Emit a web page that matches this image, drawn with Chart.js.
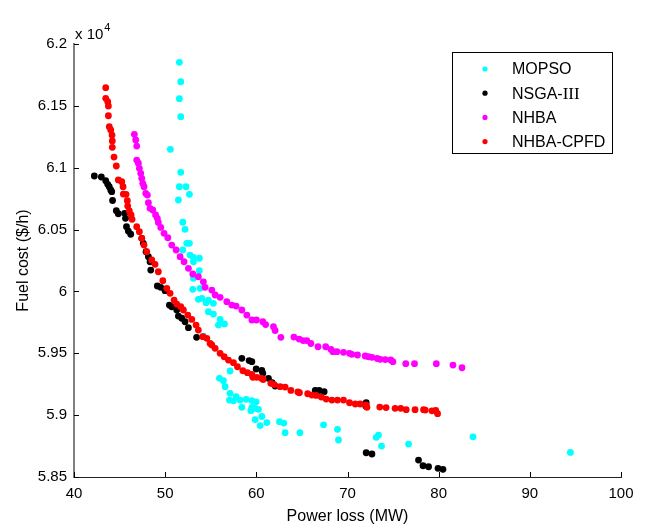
<!DOCTYPE html>
<html>
<head>
<meta charset="utf-8">
<script src="https://cdn.jsdelivr.net/npm/chart.js@4.4.1/dist/chart.umd.min.js"></script>
<style>
  html, body { margin: 0; padding: 0; background: #fff; }
  #wrap { width: 649px; height: 529px; position: relative; }
</style>
</head>
<body>
<div id="wrap"><canvas id="c" width="649" height="529"></canvas></div>
<script>
// ---- Data (Power loss in MW, Fuel cost in $/h) ----
const seriesNames = ['MOPSO', 'NSGA-\u2162', 'NHBA', 'NHBA-CPFD'];
const seriesColors = ['#00FFFF', '#000000', '#FF00FF', '#FF0000'];

const mopsoLoss = [51.56,51.71,51.56,51.71,50.57,51.71,51.56,52.29,52.66,51.45,51.93,52.18,52.37,52.66,51.93,52.73,53.10,53.75,53.10,53.75,53.10,53.83,53.03,53.64,54.02,54.74,54.49,55.29,54.74,55.29,56.03,56.50,55.84,54.19,57.12,55.95,56.39,56.58,57.12,57.05,57.78,58.22,57.49,58.88,59.51,59.98,58.41,59.40,59.51,59.87,60.23,59.87,60.60,60.42,61.15,62.54,63.01,63.16,64.78,67.37,68.90,69.01,73.15,73.40,73.73,76.70,83.77,94.45];
const mopsoCost = [61852,61695,61558,61412,61149,60963,60846,60846,60785,60739,60559,60502,60389,60389,60335,60294,60276,60268,60240,60167,60106,60025,60017,59936,59944,59930,59909,59904,59836,59817,59774,59737,59728,59639,59357,59298,59278,59230,59176,59122,59149,59122,59116,59128,59118,59108,59063,59036,59063,59055,59047,58964,58989,58916,58940,58947,58936,58858,58858,58922,58885,58799,58821,58839,58750,58766,58825,58699];

const nsgaLoss = [42.23,43.00,43.48,43.70,43.87,44.03,44.14,44.23,44.64,44.86,45.55,45.65,45.76,45.96,46.22,47.43,47.61,47.90,48.16,48.34,48.42,49.14,49.52,49.99,50.46,50.72,51.27,51.45,51.82,52.18,52.55,53.45,58.41,59.21,59.51,59.98,60.60,60.71,61.33,61.73,62.06,66.46,66.89,67.44,72.05,72.00,72.05,72.68,77.79,78.28,78.89,79.93,80.47];
const nsgaCost = [60933,60925,60895,60866,60846,60820,60806,60735,60652,60628,60631,60591,60523,60488,60462,60429,60389,60321,60281,60240,60173,60044,60033,60006,59890,59876,59850,59801,59783,59755,59707,59629,59459,59441,59432,59373,59361,59338,59298,59262,59235,59199,59199,59189,59100,59074,58696,58686,58637,58591,58583,58570,58562];

const nhbaLoss = [46.62,46.77,46.88,46.88,47.06,47.17,47.32,47.43,47.54,47.68,47.87,48.05,48.16,48.34,48.64,48.95,49.14,49.25,49.52,49.88,50.29,50.72,51.20,51.64,52.07,52.55,53.03,53.64,54.19,54.38,55.12,55.48,56.03,56.76,57.31,57.78,58.41,58.96,59.51,60.01,60.71,61.02,61.88,62.06,62.69,64.12,64.70,65.14,65.54,65.98,66.76,67.61,68.18,68.40,68.84,69.56,70.22,70.48,71.10,71.94,72.31,72.68,73.26,73.59,74.14,74.74,74.98,76.39,77.35,79.74,81.57,82.56];
const nhbaCost = [61270,61224,61175,61062,61036,60995,60955,60914,60874,60846,60793,60779,60717,60672,60658,60618,60591,60557,60517,60470,60434,60375,60335,60281,60240,60187,60141,60119,60078,60033,60011,59971,59952,59917,59890,59882,59850,59809,59769,59769,59755,59732,59715,59684,59629,59631,59615,59603,59603,59579,59553,59553,59532,59513,59513,59508,59500,59492,59486,59478,59472,59467,59458,59451,59449,59446,59432,59416,59416,59416,59405,59383];

const cpfdLoss = [43.48,43.48,43.70,43.77,43.77,43.87,44.03,44.17,44.20,44.20,44.39,44.64,44.86,45.24,45.38,45.41,45.71,45.85,45.89,46.07,46.26,46.37,46.88,47.17,47.43,47.68,47.98,48.53,48.89,49.25,49.74,50.18,50.54,50.98,51.27,51.71,52.00,52.48,52.92,53.39,53.64,54.13,54.57,54.93,55.12,55.48,56.03,56.47,56.94,57.49,57.93,58.52,59.02,59.51,59.62,60.06,60.60,60.75,61.59,61.95,62.61,63.16,63.79,64.56,64.73,65.63,66.09,66.56,67.13,67.66,68.29,68.90,69.56,70.22,70.85,71.39,72.05,72.13,73.54,74.23,75.22,75.84,76.44,77.41,78.34,78.53,79.26,79.68,79.88];
const cpfdCost = [61647,61561,61534,61499,61420,61331,61305,61264,61216,61165,61086,61014,60901,60887,60846,60787,60785,60733,60690,60650,60618,60583,60523,60483,60429,60375,60321,60254,60219,60159,60087,60025,59985,59930,59898,59876,59850,59809,59774,59728,59688,59634,59621,59580,59567,59540,59500,59472,59445,59424,59391,59359,59343,59330,59306,59306,59297,59288,59257,59247,59230,59227,59200,59187,59181,59173,59162,59159,59146,59130,59122,59122,59122,59100,59090,59090,59082,59063,59065,59061,59055,59055,59044,59044,59044,59041,59035,59038,59012];

const xTickValues = [40, 50, 60, 70, 80, 90, 100];
const yTickValues = [58500, 59000, 59500, 60000, 60500, 61000, 61500, 62000];
const xTitle = 'Power loss (MW)';
const yTitle = 'Fuel cost ($/h)';
const yExponentText = 'x 10';
const yExponent = '4';

// ---- Build ----
const SANS = "'Liberation Sans', Arial, Helvetica, sans-serif";
const pairs = (xs, ys) => xs.map((v, i) => ({ x: v, y: ys[i] }));
const allLoss = [mopsoLoss, nsgaLoss, nhbaLoss, cpfdLoss];
const allCost = [mopsoCost, nsgaCost, nhbaCost, cpfdCost];

const datasets = seriesNames.map((name, i) => ({
  label: name,
  data: pairs(allLoss[i], allCost[i]),
  backgroundColor: seriesColors[i],
  borderColor: seriesColors[i],
  borderWidth: 0,
  pointRadius: 3.4,
  pointHoverRadius: 3.4,
  order: 3 - i
}));

const decorPlugin = {
  id: 'decor',
  afterDraw(chart) {
    const ctx = chart.ctx;
    const xs = chart.scales.x, ys = chart.scales.y;
    const ca = chart.chartArea;
    ctx.save();
    // inward tick marks
    ctx.strokeStyle = '#000';
    ctx.lineWidth = 1;
    ctx.beginPath();
    xs.ticks.forEach(t => {
      const px = Math.round(xs.getPixelForValue(t.value)) + 0.5;
      ctx.moveTo(px, ca.bottom);
      ctx.lineTo(px, ca.bottom - 5);
    });
    ys.ticks.forEach(t => {
      const py = Math.round(ys.getPixelForValue(t.value)) + 0.5;
      ctx.moveTo(ca.left, py);
      ctx.lineTo(ca.left + 5, py);
    });
    ctx.stroke();

    // exponent label
    ctx.fillStyle = '#000';
    ctx.textBaseline = 'alphabetic';
    ctx.textAlign = 'left';
    ctx.font = '15px ' + SANS;
    ctx.fillText(yExponentText, ca.left + 1, ca.top - 5);
    const w = ctx.measureText(yExponentText).width;
    ctx.font = '11px ' + SANS;
    ctx.fillText(yExponent, ca.left + 2 + w, ca.top - 13);

    // legend
    const lx = 452.5, ly = 52.5, lw = 160, lh = 101;
    ctx.fillStyle = '#fff';
    ctx.fillRect(lx, ly, lw, lh);
    ctx.strokeStyle = '#000';
    ctx.lineWidth = 1;
    ctx.strokeRect(lx, ly, lw, lh);
    chart.data.datasets.forEach((ds, i) => {
      const cy = 69 + i * 24.2;
      ctx.fillStyle = ds.backgroundColor;
      ctx.beginPath();
      ctx.arc(485, cy, 2.6, 0, Math.PI * 2);
      ctx.fill();
      ctx.fillStyle = '#000';
      ctx.textBaseline = 'middle';
      ctx.textAlign = 'left';
      const label = ds.label;
      const k = label.indexOf('\u2162');
      if (k >= 0) {
        const pre = label.slice(0, k);
        ctx.font = '16px ' + SANS;
        ctx.fillText(pre, 512, cy + 1);
        const pw = ctx.measureText(pre).width;
        ctx.font = "17px 'Liberation Serif', 'Times New Roman', serif";
        ctx.fillText('III', 512 + pw, cy + 1);
      } else {
        ctx.font = '16px ' + SANS;
        ctx.fillText(label, 512, cy + 1);
      }
    });
    ctx.restore();
  }
};

new Chart(document.getElementById('c'), {
  type: 'scatter',
  data: { datasets },
  options: {
    responsive: false,
    animation: false,
    devicePixelRatio: 1,
    layout: { padding: { top: 44, right: 28, left: 0, bottom: 0 } },
    plugins: { legend: { display: false }, tooltip: { enabled: false } },
    scales: {
      x: {
        type: 'linear',
        min: 40, max: 100,
        afterBuildTicks: s => { s.ticks = xTickValues.map(v => ({ value: v })); },
        afterFit: s => { s.height = 52; },
        grid: { display: false, drawTicks: false },
        border: { display: true, color: '#222', width: 1 },
        ticks: { color: '#000', font: { family: SANS, size: 15 }, padding: 8, maxRotation: 0, autoSkip: false },
        title: { display: true, text: xTitle, color: '#000', font: { family: SANS, size: 16 }, padding: { top: 0, bottom: 3 } }
      },
      y: {
        type: 'linear',
        min: 58500, max: 62000,
        afterBuildTicks: s => { s.ticks = yTickValues.map(v => ({ value: v })); },
        afterFit: s => { s.width = 74; },
        grid: { display: false, drawTicks: false },
        border: { display: true, color: '#808080', width: 2 },
        ticks: {
          color: '#000', font: { family: SANS, size: 15 }, padding: 7, autoSkip: false,
          callback: v => String(parseFloat((v / 1e4).toFixed(2)))
        },
        title: { display: true, text: yTitle, color: '#000', font: { family: SANS, size: 16 }, padding: { top: 14, bottom: 0 } }
      }
    }
  },
  plugins: [decorPlugin]
});
</script>
</body>
</html>
